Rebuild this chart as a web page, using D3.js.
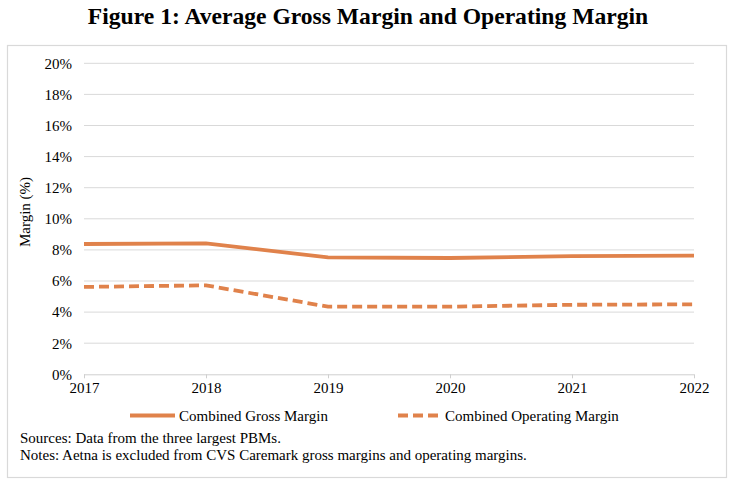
<!DOCTYPE html>
<html>
<head>
<meta charset="utf-8">
<script src="https://cdn.jsdelivr.net/npm/d3@7"></script>
<style>
  body { margin: 0; background: #fff; }
  text { font-family: "Liberation Serif", "Times New Roman", serif; fill: #000; }
</style>
</head>
<body>
<svg id="chart" width="734" height="483"></svg>
<script>
// chart values
var years = ['2017', '2018', '2019', '2020', '2021', '2022'];
var grossMargin = [8.38, 8.42, 7.52, 7.48, 7.60, 7.63];
var operatingMargin = [5.62, 5.72, 4.35, 4.35, 4.47, 4.50];
var yTicks = [0, 2, 4, 6, 8, 10, 12, 14, 16, 18, 20];
var seriesNames = ['Combined Gross Margin', 'Combined Operating Margin'];

var orange = '#E0824B';
var serif = '"Liberation Serif", "Times New Roman", serif';
var svg = d3.select('#chart');

// title
svg.append('text')
  .attr('x', 368)
  .attr('y', 24)
  .attr('text-anchor', 'middle')
  .style('font-size', '23.6px')
  .style('font-weight', 'bold')
  .text('Figure 1: Average Gross Margin and Operating Margin');

// outer frame
svg.append('rect')
  .attr('x', 7.5).attr('y', 45.5)
  .attr('width', 719).attr('height', 432)
  .attr('fill', 'none')
  .attr('stroke', '#d9d9d9')
  .attr('stroke-width', 1.2);

var x = d3.scalePoint().domain(years).range([84, 694]);
var y = d3.scaleLinear().domain([0, 20]).range([374.3, 63.3]);

// gridlines
svg.append('g')
  .selectAll('line')
  .data(yTicks.slice(1))
  .enter()
  .append('line')
  .attr('x1', 84).attr('x2', 694)
  .attr('y1', function(d) { return y(d); })
  .attr('y2', function(d) { return y(d); })
  .attr('stroke', '#d9d9d9')
  .attr('stroke-width', 1);

// y axis labels
var yAxis = d3.axisLeft(y)
  .tickValues(yTicks)
  .tickSize(0)
  .tickPadding(12)
  .tickFormat(function(d) { return d + '%'; });
var yg = svg.append('g').attr('transform', 'translate(84,0)').call(yAxis);
yg.attr('font-family', null);
yg.select('.domain').remove();
yg.selectAll('text')
  .style('font-family', serif)
  .style('font-size', '15px')
  .attr('fill', '#000');

// x axis
var xAxis = d3.axisBottom(x).tickSize(4).tickPadding(4);
var xg = svg.append('g').attr('transform', 'translate(0,' + y(0) + ')').call(xAxis);
xg.attr('font-family', null);
xg.select('.domain').attr('stroke', '#cfcfcf').attr('d', 'M84,0.5H694');
xg.selectAll('.tick line').attr('stroke', '#cfcfcf');
xg.selectAll('text')
  .style('font-family', serif)
  .style('font-size', '15px')
  .attr('fill', '#000');

// axis title
svg.append('text')
  .attr('transform', 'translate(30,212) rotate(-90)')
  .attr('text-anchor', 'middle')
  .style('font-size', '15px')
  .text('Margin (%)');

var line = d3.line()
  .x(function(d, i) { return x(years[i]); })
  .y(function(d) { return y(d); });

svg.append('path')
  .datum(grossMargin)
  .attr('d', line)
  .attr('fill', 'none')
  .attr('stroke', orange)
  .attr('stroke-width', 3.8);

svg.append('path')
  .datum(operatingMargin)
  .attr('d', line)
  .attr('fill', 'none')
  .attr('stroke', orange)
  .attr('stroke-width', 3.8)
  .attr('stroke-dasharray', '10,5');

// legend
var legend = [
  { name: seriesNames[0], x1: 130, x2: 175, dash: null },
  { name: seriesNames[1], x1: 398, x2: 441, dash: '10,5' }
];
var lg = svg.append('g').selectAll('g').data(legend).enter().append('g');
lg.append('line')
  .attr('x1', function(d) { return d.x1; })
  .attr('x2', function(d) { return d.x2; })
  .attr('y1', 415.5).attr('y2', 415.5)
  .attr('stroke', orange)
  .attr('stroke-width', 3.8)
  .attr('stroke-dasharray', function(d) { return d.dash; });
lg.append('text')
  .attr('x', function(d) { return d.x2 + 4; })
  .attr('y', 421)
  .style('font-size', '15px')
  .text(function(d) { return d.name; });

// footnotes
svg.append('text')
  .attr('x', 20).attr('y', 443)
  .style('font-size', '15px')
  .text('Sources: Data from the three largest PBMs.');
svg.append('text')
  .attr('x', 20).attr('y', 459.5)
  .style('font-size', '15px')
  .text('Notes: Aetna is excluded from CVS Caremark gross margins and operating margins.');
</script>
</body>
</html>
